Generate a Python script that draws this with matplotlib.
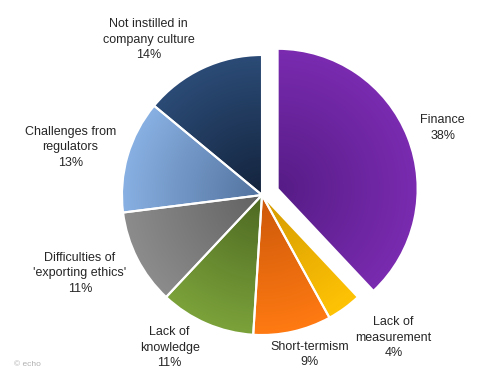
import matplotlib.pyplot as plt
import numpy as np
from matplotlib.colors import LinearSegmentedColormap

plt.rcParams['font.family'] = ['Liberation Sans', 'DejaVu Sans']

categories = ['Finance', 'Lack of\nmeasurement', 'Short-termism', 'Lack of\nknowledge',
              "Difficulties of\n'exporting ethics'", 'Challenges from\nregulators',
              'Not instilled in\ncompany culture']
shares = [38, 4, 9, 11, 11, 13, 14]
explode = [0.12, 0, 0, 0, 0, 0, 0]

# (dark near centre, light at rim)
shades = [('#561c86', '#7a2bb0'), ('#d49a00', '#ffc305'), ('#cc580a', '#ff7a12'),
          ('#4d6822', '#7ba23a'), ('#626262', '#8c8c8c'), ('#52729e', '#88b0e2'),
          ('#13233c', '#2b4b76')]

# label block centres in data units (pie radius = 1)
label_pos = [(1.29, 0.48), (0.94, -1.02), (0.34, -1.14), (-0.66, -1.09),
             (-1.30, -0.56), (-1.37, 0.34), (-0.81, 1.11)]

fig = plt.figure(figsize=(4.85, 3.76), dpi=100)
ax = fig.add_axes([0, 0, 1, 1])

labels = [f'{c}\n{v}%' for c, v in zip(categories, shares)]
wedges, texts = ax.pie(shares, labels=labels, explode=explode, startangle=90,
                       counterclock=False, colors=[s[1] for s in shades],
                       wedgeprops=dict(edgecolor='white', linewidth=1.5),
                       textprops=dict(fontsize=9, color='#262626'))

grid = np.linspace(-1, 1, 300)
gx, gy = np.meshgrid(grid, grid)
radial = np.clip(np.sqrt(gx ** 2 + gy ** 2), 0, 1)

for w, (dark, light) in zip(wedges, shades):
    cx, cy = w.center
    cmap = LinearSegmentedColormap.from_list('g', [dark, light])
    im = ax.imshow(radial, cmap=cmap, extent=[cx - 1, cx + 1, cy - 1, cy + 1],
                   origin='lower', zorder=1, vmin=0, vmax=1)
    im.set_clip_path(w)
    w.set_facecolor('none')
    w.set_zorder(2)

for t, (x, y) in zip(texts, label_pos):
    t.set_position((x, y))
    t.set_ha('center')
    t.set_va('center')
    t.set_multialignment('center')
    t.set_linespacing(1.4)

ax.text(-1.77, -1.21, '© echo', fontsize=6, color='#b0b0b0', ha='left', va='center')

ax.set_xlim(-262 / 140, (485 - 262) / 140)
ax.set_ylim(-(376 - 195) / 140, 195 / 140)
ax.set_aspect('equal')
ax.axis('off')

fig.savefig('out.png', dpi=100)
